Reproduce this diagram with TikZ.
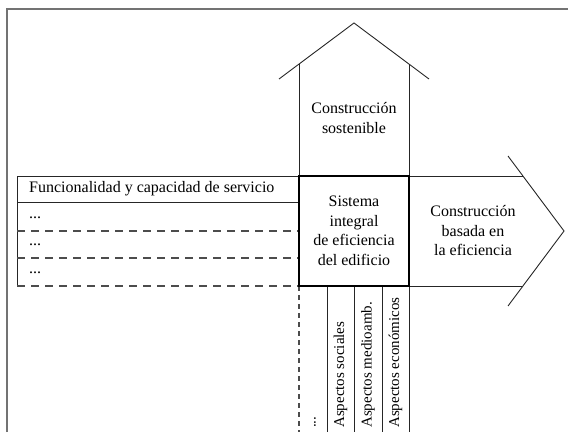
\documentclass[tikz,border=0pt]{standalone}
\usepackage{fontspec}
\setmainfont{Liberation Serif}
\begin{document}
\begin{tikzpicture}[x=1pt,y=1pt,
  thinline/.style={draw=black!85,line width=0.9pt},
  thickbox/.style={draw=black,line width=2.2pt},
  hdash/.style={draw=black!70,line width=1.3pt,dash pattern=on 8pt off 6pt},
  vdash/.style={draw=black!70,line width=1.3pt,dash pattern=on 5pt off 4pt},
  frame/.style={draw=black!55,line width=1.8pt},
  lbl/.style={align=center,inner sep=0pt,font=\fontsize{16}{19.5}\selectfont},
  vlbl/.style={rotate=90,anchor=west,inner sep=0pt,font=\fontsize{15}{18}\selectfont}]
\useasboundingbox (0,0) rectangle (568,432);
% frame
\draw[frame] (7,0) -- (7,423) -- (568,423);
% upward arrow (house)
\coordinate (roofL) at (279,353);
\coordinate (apex) at (354,409);
\coordinate (roofR) at (429,353);
\coordinate (wallLt) at (299,367.9);
\coordinate (wallRt) at (409,367.9);
\draw[thinline] (roofL) -- (apex) -- (roofR);
\draw[thinline] (wallLt) -- (299,256);
\draw[thinline] (wallRt) -- (409,256);
% horizontal arrow
\coordinate (hU) at (508,276);
\coordinate (hT) at (564,201);
\coordinate (hD) at (508,126);
\draw[thinline] (hU) -- (hT) -- (hD);
\draw[thinline] (409,256) -- (522.9,256);
\draw[thinline] (409,146) -- (522.9,146);
% left table
\draw[thinline] (299,256) -- (17,256) -- (17,146);
\draw[thinline] (17,230) -- (299,230);
\draw[hdash] (17,201) -- (299,201);
\draw[hdash] (17,174) -- (299,174);
\draw[hdash] (17,146) -- (299,146);
% columns below
\draw[vdash] (299,146) -- (299,0);
\draw[thinline] (327,146) -- (327,0);
\draw[thinline] (354,146) -- (354,0);
\draw[thinline] (382,146) -- (382,0);
\draw[thinline] (409,146) -- (409,0);
% central box
\draw[thickbox] (299,146) rectangle (409,256);
% labels
\node[lbl] (cs) at (354,314) {Construcción\\sostenible};
\node[lbl] (sie) at (354,201) {Sistema\\integral\\de eficiencia\\del edificio};
\node[lbl] (cbe) at (473,201) {Construcción\\basada en\\la eficiencia};
\node[lbl,anchor=west] (fcs) at (29,243) {Funcionalidad y capacidad de servicio};
\node[lbl,anchor=west] (d1) at (29,214) {...};
\node[lbl,anchor=west] (d2) at (29,187) {...};
\node[lbl,anchor=west] (d3) at (29,159) {...};
\node[vlbl] (vd) at (315,4) {...};
\node[vlbl] (as) at (340.5,4) {Aspectos sociales};
\node[vlbl] (am) at (368,4) {Aspectos medioamb.};
\node[vlbl] (ae) at (395.5,4) {Aspectos económicos};
\end{tikzpicture}
\end{document}
